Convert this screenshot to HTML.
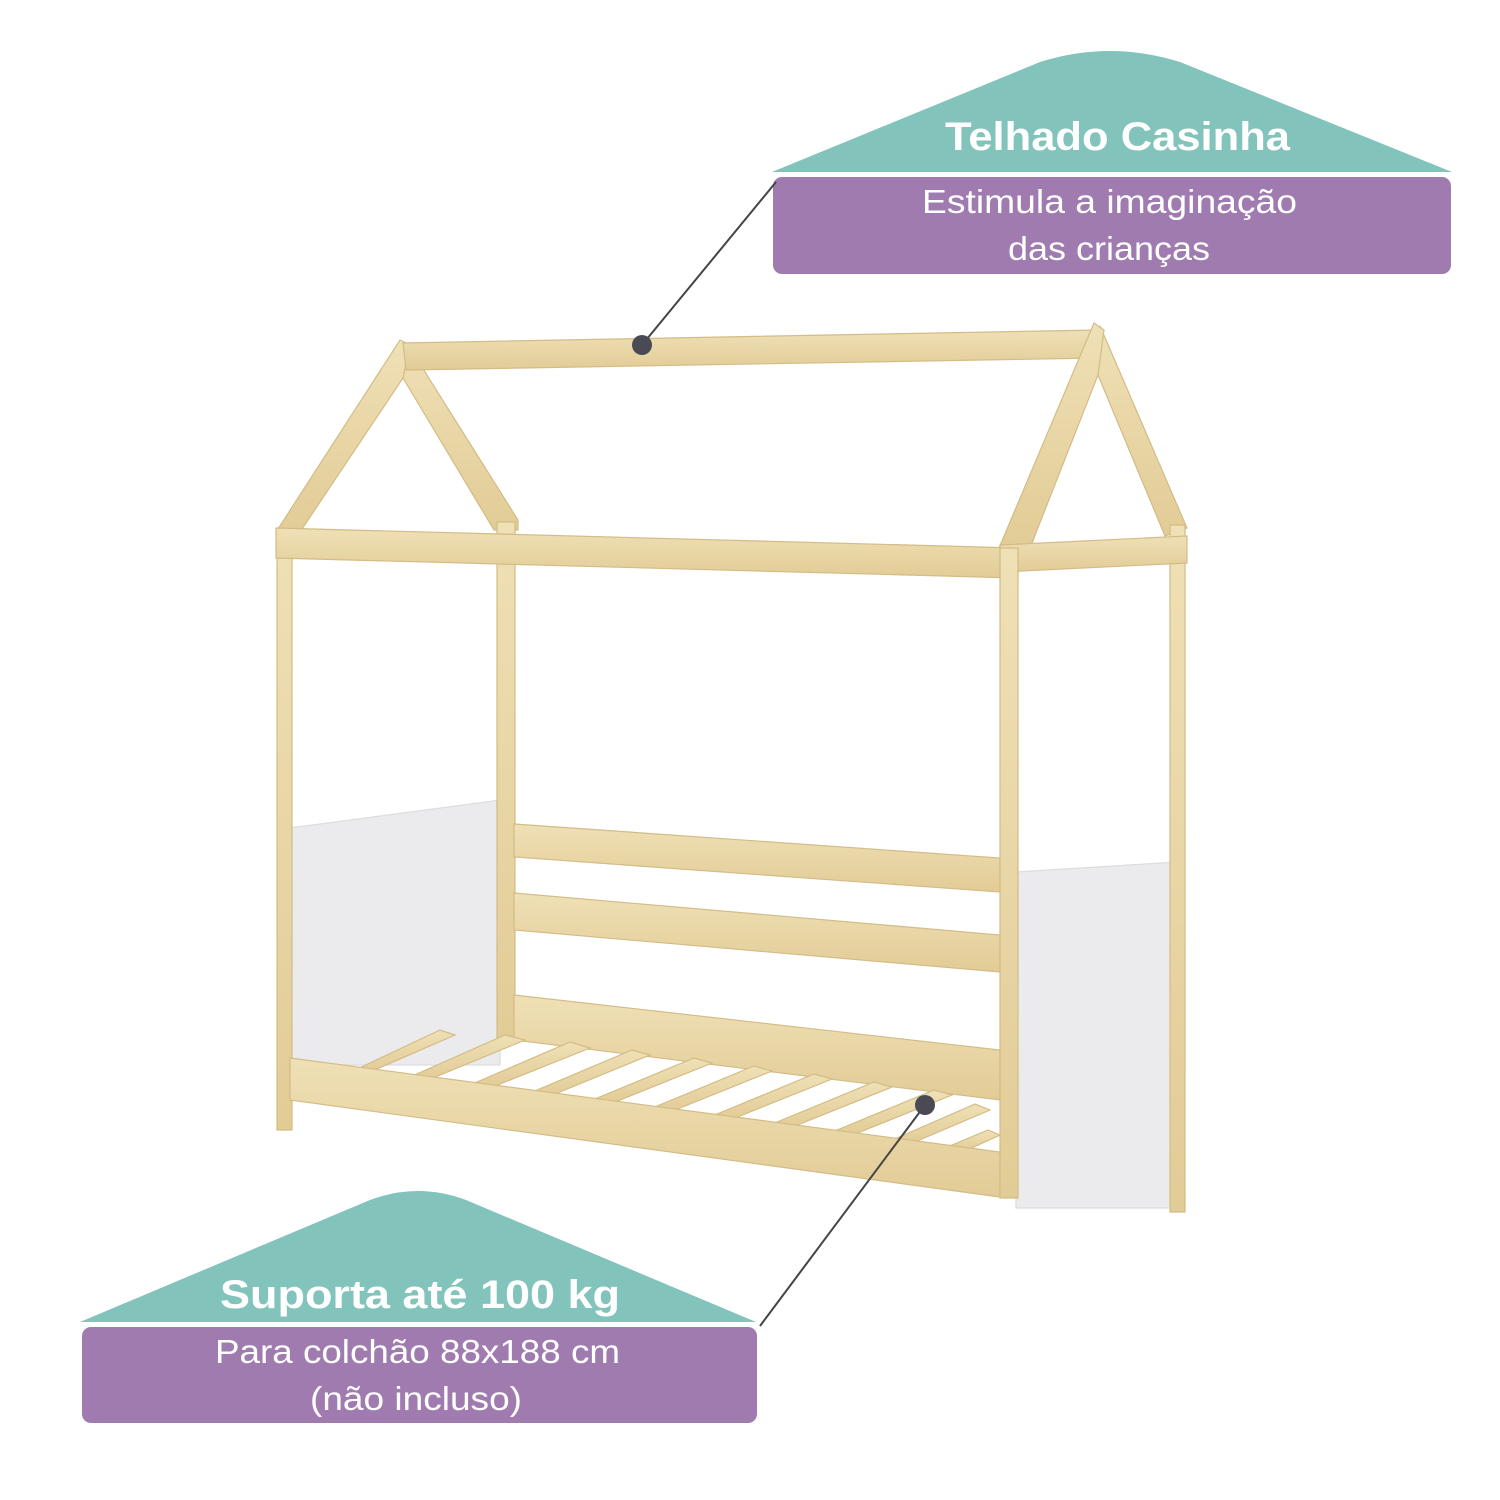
<!DOCTYPE html>
<html><head><meta charset="utf-8"><style>
html,body{margin:0;padding:0;background:#fff;}
svg{display:block;}
text{font-family:"Liberation Sans",sans-serif;fill:#fff;}
</style></head><body>
<svg width="1500" height="1500" viewBox="0 0 1500 1500" xmlns="http://www.w3.org/2000/svg">
<defs>
<linearGradient id="w" x1="0" y1="0" x2="0" y2="1"><stop offset="0" stop-color="#efe0b6"/><stop offset="1" stop-color="#e2cc96"/></linearGradient>
</defs>
<!-- top label -->
<path d="M772,172 L1040,62 Q1110,40 1180,62 L1452,172 Z" fill="#82c3bb"/>
<rect x="773" y="177" width="678" height="97" rx="9" fill="#a07bb0"/>
<text x="945" y="150" font-size="40" font-weight="bold" textLength="345" lengthAdjust="spacingAndGlyphs">Telhado Casinha</text>
<text x="922" y="213" font-size="33" textLength="375" lengthAdjust="spacingAndGlyphs">Estimula a imaginação</text>
<text x="1008" y="260" font-size="33" textLength="202" lengthAdjust="spacingAndGlyphs">das crianças</text>
<!-- bottom label -->
<path d="M80,1322 L370,1200 Q418,1182 466,1200 L756,1322 Z" fill="#82c3bb"/>
<rect x="82" y="1327" width="675" height="96" rx="9" fill="#a07bb0"/>
<text x="220" y="1308" font-size="40" font-weight="bold" textLength="400" lengthAdjust="spacingAndGlyphs">Suporta até 100 kg</text>
<text x="215" y="1363" font-size="33" textLength="405" lengthAdjust="spacingAndGlyphs">Para colchão 88x188 cm</text>
<text x="310" y="1410" font-size="33" textLength="212" lengthAdjust="spacingAndGlyphs">(não incluso)</text>

<!-- bed -->
<g stroke="#d3bc86" stroke-width="1.2" fill="url(#w)">
<!-- white panels -->
<polygon points="290,828 500,800 500,1065 290,1065" fill="#ebebed" stroke="#ddd"/>
<polygon points="1016,872 1178,862 1178,1208 1016,1208" fill="#ebebed" stroke="#ddd"/>
<!-- left gable rafters -->
<polygon points="408,345 518,520 518,530 494,530 403,378"/>
<polygon points="400,340 410,345 403,378 300,532 276,532"/>
<!-- ridge -->
<polygon points="403,343 1098,330 1098,358 406,370"/>
<!-- right gable -->
<polygon points="1100,326 1187,528 1165,536 1098,375"/>
<polygon points="1094,323 1104,330 1098,375 1030,548 999,548"/>
<!-- posts -->
<rect x="497" y="522" width="18" height="520"/>
<rect x="277" y="535" width="15" height="595"/>
<rect x="1170" y="525" width="15" height="687"/>
<!-- eave beams -->
<polygon points="276,528 1018,548 1018,578 276,558"/>
<polygon points="1000,545 1187,536 1187,563 1000,572"/>
<!-- back rails -->
<polygon points="514,824 1000,858 1000,892 514,857"/>
<polygon points="514,893 1000,935 1000,972 514,930"/>
<polygon points="514,995 1000,1050 1000,1100 514,1040"/>
<!-- slats -->
<g>
<polygon points="355,1070 370,1072 455,1035 440,1030"/>
<polygon points="410,1077 428,1080 525,1040 505,1035"/>
<polygon points="470,1085 490,1088 590,1048 570,1042"/>
<polygon points="530,1093 550,1096 650,1055 632,1050"/>
<polygon points="590,1101 610,1104 712,1063 694,1058"/>
<polygon points="650,1109 670,1112 772,1071 754,1066"/>
<polygon points="710,1117 730,1120 832,1079 814,1074"/>
<polygon points="770,1125 790,1128 892,1087 874,1082"/>
<polygon points="830,1133 850,1136 952,1095 934,1090"/>
<polygon points="890,1141 910,1144 990,1110 975,1104"/>
<polygon points="945,1148 965,1151 1000,1135 988,1130"/>
</g>
<!-- front rail -->
<polygon points="290,1058 1000,1152 1000,1197 290,1100"/>
<rect x="1000" y="548" width="18" height="650"/>
</g>
<!-- connectors -->
<line x1="776" y1="182" x2="642" y2="345" stroke="#444" stroke-width="2"/>
<circle cx="642" cy="345" r="10" fill="#4a4a55"/>
<line x1="925" y1="1105" x2="760" y2="1326" stroke="#444" stroke-width="2"/>
<circle cx="925" cy="1105" r="10" fill="#4a4a55"/>
</svg>
</body></html>
